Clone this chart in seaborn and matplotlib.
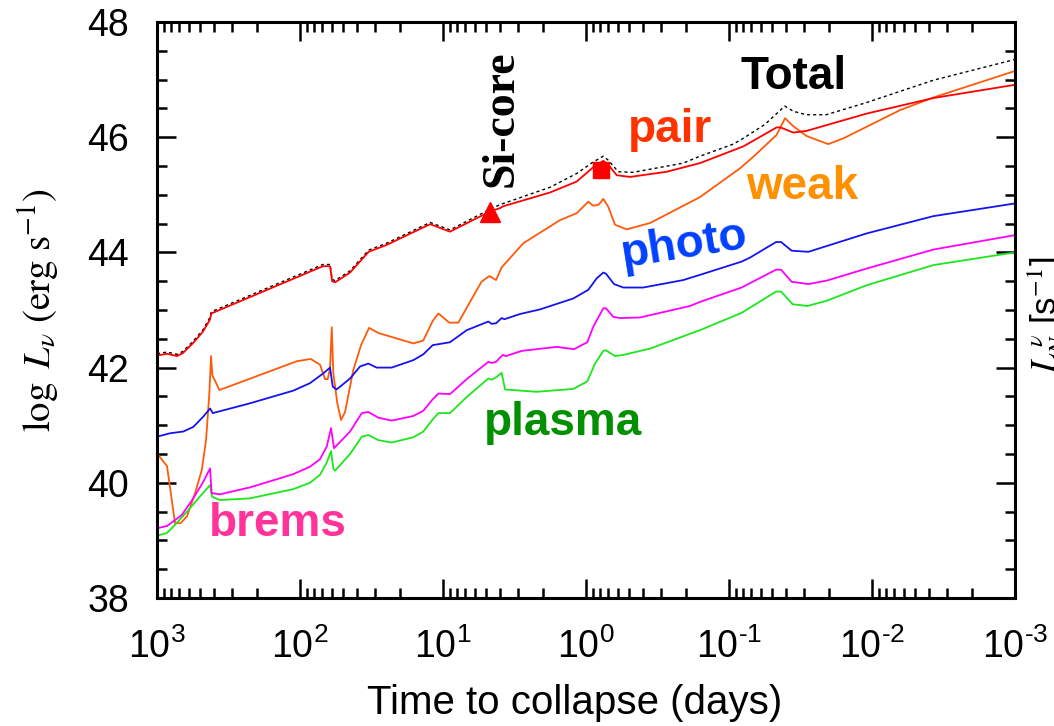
import numpy as np
import matplotlib
matplotlib.use("Agg")
import matplotlib.pyplot as plt
from matplotlib import font_manager
from matplotlib.ticker import LogLocator, MultipleLocator, FuncFormatter, NullFormatter
import seaborn as sns

# ---- neutrino luminosity components: log10(time to collapse [days]) vs log L ----
total_logt = [3.00, 2.93, 2.86, 2.82, 2.75, 2.68, 2.63, 2.62, 1.84, 1.79, 1.775, 1.755, 1.65,
              1.52, 1.394, 1.09, 0.951, 0.671, 0.60, 0.252, 0.065, -0.051, -0.121, -0.156,
              -0.226, -0.33, -0.68, -0.797, -1.03, -1.10, -1.25, -1.39, -1.45, -1.54, -1.68,
              -1.96, -2.43, -3.00]
total_logL = [42.24, 42.27, 42.23, 42.28, 42.45, 42.65, 42.87, 42.97, 43.79, 43.79, 43.53, 43.51,
              43.68, 44.04, 44.16, 44.52, 44.39, 44.75, 44.83, 45.13, 45.37, 45.57, 45.67, 45.60,
              45.40, 45.39, 45.55, 45.67, 45.88, 45.98, 46.22, 46.54, 46.45, 46.39, 46.39,
              46.60, 46.99, 47.35]

pair_logt = [3.00, 2.93, 2.86, 2.82, 2.75, 2.68, 2.63, 2.62, 1.84, 1.79, 1.775, 1.755, 1.65,
             1.52, 1.394, 1.09, 0.951, 0.671, 0.60, 0.58, 0.252, 0.065, -0.051, -0.121, -0.156,
             -0.215, -0.308, -0.564, -0.797, -1.10, -1.333, -1.36, -1.45, -1.543, -1.963,
             -2.43, -3.00]
pair_logL = [42.21, 42.24, 42.20, 42.25, 42.42, 42.62, 42.83, 42.94, 43.76, 43.76, 43.50, 43.48,
             43.65, 44.01, 44.13, 44.49, 44.36, 44.71, 44.77, 44.80, 45.04, 45.23, 45.48, 45.59,
             45.52, 45.34, 45.31, 45.40, 45.55, 45.84, 46.17, 46.17, 46.08, 46.11, 46.41,
             46.68, 46.91]

weak_logt = [3.00, 2.93, 2.874, 2.834, 2.79, 2.734, 2.687, 2.657, 2.634, 2.622, 2.613, 2.564,
             2.466, 2.023, 1.925, 1.86, 1.825, 1.806, 1.79, 1.778, 1.767, 1.739, 1.713, 1.685,
             1.627, 1.573, 1.517, 1.452, 1.207, 1.138, 1.072, 1.032, 0.956, 0.893, 0.731,
             0.676, 0.629, 0.59, 0.438, 0.182, 0.065, -0.016, -0.051, -0.09, -0.121, -0.156,
             -0.203, -0.285, -0.448, -0.797, -1.077, -1.17, -1.333, -1.392, -1.45, -1.543,
             -1.694, -1.80, -2.196, -2.43, -3.00]
weak_logL = [40.51, 40.29, 39.30, 39.30, 39.42, 39.82, 40.22, 40.74, 41.55, 42.20, 41.87, 41.61,
             41.70, 42.11, 42.15, 42.05, 41.80, 41.80, 41.99, 42.70, 41.90, 41.38, 41.09, 41.23,
             41.96, 42.39, 42.69, 42.60, 42.42, 42.47, 42.81, 42.94, 42.78, 42.78, 43.49,
             43.59, 43.52, 43.74, 44.16, 44.56, 44.68, 44.88, 44.81, 44.83, 44.93, 44.79,
             44.48, 44.40, 44.51, 44.96, 45.46, 45.66, 46.04, 46.33, 46.19, 46.02,
             45.88, 45.98, 46.47, 46.69, 47.15]

photo_logt = [3.00, 2.909, 2.816, 2.746, 2.676, 2.629, 2.61, 2.35, 2.047, 1.93, 1.837, 1.79,
              1.771, 1.744, 1.65, 1.58, 1.522, 1.464, 1.359, 1.207, 1.138, 1.072, 0.951, 0.834,
              0.683, 0.66, 0.629, 0.59, 0.57, 0.462, 0.322, 0.089, -0.016, -0.075, -0.121,
              -0.14, -0.196, -0.261, -0.40, -0.68, -0.797, -1.088, -1.147, -1.329, -1.364,
              -1.438, -1.555, -1.963, -2.43, -3.00]
photo_logL = [40.80, 40.86, 40.89, 40.97, 41.15, 41.29, 41.21, 41.38, 41.60, 41.73, 41.90, 42.00,
              41.67, 41.62, 41.81, 42.02, 42.07, 42.00, 42.00, 42.13, 42.23, 42.39, 42.44, 42.65,
              42.80, 42.76, 42.77, 42.86, 42.84, 42.93, 43.01, 43.20, 43.35, 43.55, 43.65,
              43.63, 43.45, 43.39, 43.39, 43.52, 43.61, 43.84, 43.91, 44.18, 44.18,
              44.03, 44.01, 44.33, 44.63, 44.85]

brems_logt = [3.00, 2.93, 2.827, 2.746, 2.676, 2.629, 2.618, 2.56, 2.35, 2.047, 1.93, 1.86,
              1.813, 1.783, 1.762, 1.65, 1.568, 1.522, 1.452, 1.359, 1.207, 1.138, 1.072, 1.032,
              0.951, 0.834, 0.683, 0.66, 0.629, 0.583, 0.56, 0.45, 0.205, 0.084, -0.009,
              -0.051, -0.121, -0.14, -0.191, -0.238, -0.378, -0.727, -0.797, -1.088, -1.329,
              -1.364, -1.438, -1.555, -1.683, -1.963, -2.43, -3.00]
brems_logL = [39.21, 39.25, 39.44, 39.73, 40.02, 40.25, 39.82, 39.80, 39.92, 40.15, 40.28, 40.41,
              40.63, 40.95, 40.60, 40.89, 41.21, 41.23, 41.13, 41.08, 41.16, 41.25, 41.45, 41.55,
              41.54, 41.80, 42.10, 42.08, 42.10, 42.22, 42.20, 42.29, 42.36, 42.32, 42.44,
              42.71, 43.03, 43.03, 42.88, 42.86, 42.87, 43.07, 43.14, 43.39, 43.70,
              43.70, 43.49, 43.45, 43.51, 43.72, 44.05, 44.30]

plasma_logt = [3.00, 2.93, 2.874, 2.79, 2.711, 2.629, 2.615, 2.56, 2.35, 2.047, 1.93, 1.86,
               1.813, 1.783, 1.767, 1.755, 1.65, 1.568, 1.522, 1.452, 1.359, 1.207, 1.138,
               1.072, 1.032, 0.951, 0.834, 0.683, 0.66, 0.629, 0.59, 0.566, 0.345, 0.089,
               -0.009, -0.063, -0.121, -0.14, -0.203, -0.261, -0.448, -0.797, -1.088, -1.329,
               -1.364, -1.445, -1.548, -1.683, -1.963, -2.43, -3.00]
plasma_logL = [39.08, 39.13, 39.27, 39.50, 39.73, 39.96, 39.76, 39.70, 39.73, 39.89, 40.00, 40.14,
               40.35, 40.55, 40.25, 40.21, 40.50, 40.80, 40.83, 40.74, 40.70, 40.79, 40.89,
               41.10, 41.21, 41.21, 41.49, 41.81, 41.79, 41.83, 41.91, 41.62, 41.58, 41.63,
               41.76, 42.07, 42.29, 42.30, 42.20, 42.22, 42.33, 42.65, 42.95, 43.32,
               43.32, 43.10, 43.07, 43.16, 43.43, 43.78, 44.00]

# stage markers: Si-core ignition (triangle) and shell stage (square)
si_logt, si_logL = [0.671], [44.71]
sq_logt, sq_logL = [-0.108], [45.43]

# component names and their colours (line, label)
labels = ["Total", "pair", "weak", "photo", "brems", "plasma", "Si-core"]
line_colors = {"pair": "#ff0000", "weak": "#ff5a0a", "photo": "#1414f0",
               "brems": "#ff00ff", "plasma": "#1ee61e"}
text_colors = {"Total": "black", "pair": "#ff3300", "weak": "#ff9000", "photo": "#0040ff",
               "brems": "#ff3399", "plasma": "#009000", "Si-core": "black"}

sns.set_theme(style="ticks")
installed = {f.name for f in font_manager.fontManager.ttflist}
narrow = "Liberation Sans Narrow" if "Liberation Sans Narrow" in installed else "Liberation Sans"
plt.rcParams["font.family"] = ["Liberation Sans", "DejaVu Sans"]
plt.rcParams["mathtext.fontset"] = "custom"
plt.rcParams["mathtext.rm"] = narrow
plt.rcParams["mathtext.it"] = narrow + ":italic"
plt.rcParams["mathtext.bf"] = narrow + ":bold"
for key in ("text.color", "axes.labelcolor", "xtick.color", "ytick.color",
            "xtick.labelcolor", "ytick.labelcolor", "axes.edgecolor"):
    plt.rcParams[key] = "black"

fig = plt.figure(figsize=(10.54, 7.26), dpi=100)
ax = fig.add_axes([157 / 1054, 1 - 598 / 726, 858 / 1054, 576 / 726])


def days(logt):
    return 10.0 ** np.asarray(logt)


def decade_label(v, pos):
    exponent = int(round(np.log10(v)))
    sign = "\u2010" if exponent < 0 else ""
    return r"$10^{%s%d}$" % (sign, abs(exponent))


sns.lineplot(x=days(total_logt), y=total_logL, color="black", linewidth=1.0,
             linestyle=(0, (2.2, 2.2)), sort=False, estimator=None, ax=ax)
series = [("weak", weak_logt, weak_logL), ("plasma", plasma_logt, plasma_logL),
          ("brems", brems_logt, brems_logL), ("photo", photo_logt, photo_logL),
          ("pair", pair_logt, pair_logL)]
for name, lt, lv in series:
    sns.lineplot(x=days(lt), y=lv, color=line_colors[name], linewidth=1.3,
                 sort=False, estimator=None, ax=ax)

ax.plot(days(si_logt), si_logL, marker="^", markersize=14, color="#ff0000",
        linestyle="none", zorder=5)
ax.plot(days(sq_logt), sq_logL, marker="s", markersize=11, color="#ff0000",
        linestyle="none", zorder=5)

ax.set_xscale("log")
ax.set_xlim(1e3, 1e-3)
ax.set_ylim(38, 48)
ax.xaxis.set_major_locator(LogLocator(base=10, numticks=20))
ax.xaxis.set_minor_locator(LogLocator(base=10, subs=np.arange(2, 10), numticks=200))
ax.xaxis.set_minor_formatter(NullFormatter())
ax.xaxis.set_major_formatter(FuncFormatter(decade_label))
ax.yaxis.set_major_locator(MultipleLocator(2))
ax.yaxis.set_minor_locator(MultipleLocator(0.5))

ax.tick_params(which="both", direction="in", top=True, right=True, width=1.8, color="black")
ax.tick_params(which="major", length=14)
ax.tick_params(which="minor", length=7)
ax.tick_params(axis="x", which="major", labelsize=27, pad=22)
ax.tick_params(axis="y", which="major", labelsize=27, pad=20)
for s in ax.spines.values():
    s.set_linewidth(2.2)
    s.set_color("black")
    s.set_visible(True)

ax.set_xlabel("Time to collapse (days)", fontsize=29, fontfamily=narrow)
ax.xaxis.set_label_coords((575 - 157) / 858, -(684 - 598) / 576)
ax.set_ylabel(r"$\log\ L_{\nu}\ (\mathrm{erg\ s^{-1}})$", fontsize=28, math_fontfamily="stix")
ax.yaxis.set_label_coords(-(157 - 62) / 858, 0.5)

# curve labels
lab_font = dict(fontsize=33, fontweight="bold", ha="center", va="center")
ax.text(days(-1.448), 47.05, labels[0], color=text_colors["Total"], **lab_font)
ax.text(days(-0.587), 46.13, labels[1], color=text_colors["pair"], **lab_font)
ax.text(days(-1.514), 45.14, labels[2], color=text_colors["weak"], **lab_font)
ax.text(days(-0.685), 44.13, labels[3], color=text_colors["photo"], rotation=9, **lab_font)
ax.text(days(2.157), 39.28, labels[4], color=text_colors["brems"], **lab_font)
ax.text(days(0.164), 41.04, labels[5], color=text_colors["plasma"], **lab_font)
ax.text(days(0.591), 46.33, labels[6], color=text_colors["Si-core"], rotation=90,
        fontsize=33, fontweight="bold", fontfamily=["Liberation Serif", "DejaVu Serif"],
        ha="center", va="center")

# secondary axis title, running off the right edge
fig.text(1026 / 1054, 1 - 315 / 726, r"$L_N^{\,\nu}$ [s$^{\mathrm{-1}}$]", rotation=90,
         fontsize=25, math_fontfamily="stix", ha="left", va="center")

fig.savefig("out.png", dpi=100)
